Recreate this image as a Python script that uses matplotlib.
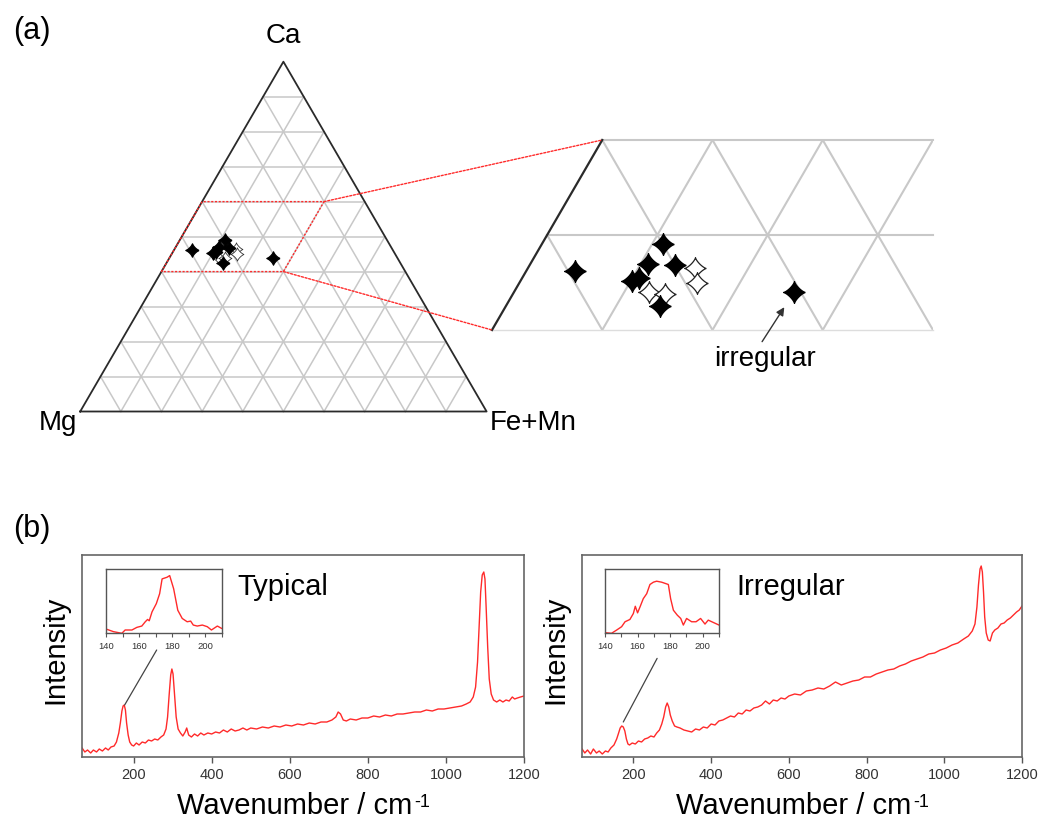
import numpy as np
import matplotlib
matplotlib.use("Agg")
import matplotlib.pyplot as plt
from matplotlib.path import Path
from matplotlib.patches import ConnectionPatch

plt.rcParams["font.family"] = ["Liberation Sans", "DejaVu Sans"]
plt.rcParams["mathtext.default"] = "regular"

# ---- (a) ternary data, mol% (Ca, Fe+Mn, Mg) ----
ca_filled = [46.2, 49.1, 46.9, 46.8, 45.2, 45.5, 42.5, 44.0]
fe_filled = [4.4, 11.0, 10.7, 13.2, 10.1, 10.6, 14.0, 25.4]
mg_filled = [49.4, 39.9, 42.4, 40.0, 44.7, 43.9, 43.5, 30.6]
ca_open = [46.5, 44.9, 44.0, 43.8]
fe_open = [15.2, 16.1, 12.2, 13.8]
mg_open = [38.3, 39.0, 43.8, 42.4]
irregular_idx = 7
# zoomed window (fractions)
zoom_ca = (0.4, 0.6)
zoom_fe = (0.0, 0.3)

# ---- (b) Raman spectra ----
wn_typ = [68, 75, 82, 90, 97, 105, 112, 120, 128, 135, 142, 150, 156, 162, 166, 170,
          173, 176, 179, 182, 186, 190, 195, 200, 207, 214, 222, 230, 238, 246, 254,
          262, 270, 277, 283, 287, 291, 295, 298, 301, 305, 309, 314, 320, 326, 332,
          336, 341, 348, 356, 364, 372, 380, 390, 400, 410, 420, 430, 440, 450, 460,
          470, 480, 490, 500, 515, 530, 545, 560, 575, 590, 605, 620, 635, 650, 665,
          680, 695, 708, 718, 724, 730, 737, 745, 755, 770, 785, 800, 815, 830, 845,
          860, 875, 890, 905, 920, 935, 950, 965, 980, 995, 1010, 1025, 1040, 1052,
          1062, 1070, 1076, 1081, 1085, 1089, 1093, 1097, 1100, 1103, 1107, 1111,
          1116, 1122, 1130, 1138, 1146, 1154, 1162, 1170, 1176, 1183, 1191, 1200]
int_typ = [9, 5, 7, 4, 7, 5, 8, 6, 9, 7, 10, 11, 15, 24, 34, 46,
           51, 52, 47, 34, 22, 15, 12, 11, 14, 12, 15, 14, 17, 16, 18,
           17, 20, 22, 28, 40, 62, 82, 88, 83, 62, 40, 28, 24, 21, 25,
           29, 22, 20, 23, 21, 24, 22, 24, 23, 25, 24, 27, 25, 28, 26,
           27, 29, 27, 29, 28, 30, 29, 31, 30, 32, 31, 33, 32, 34, 33,
           35, 35, 37, 40, 45, 43, 37, 36, 38, 37, 39, 39, 41, 40, 42,
           41, 43, 43, 44, 45, 45, 47, 46, 48, 48, 49, 50, 51, 53,
           55, 60, 70, 95, 130, 165, 182, 185, 178, 150, 110, 78,
           63, 57, 55, 57, 55, 57, 56, 60, 58, 59, 60, 61]

wn_irr = [68, 75, 82, 90, 97, 105, 112, 120, 128, 135, 142, 150, 157, 162, 166, 170,
          174, 178, 182, 186, 190, 197, 205, 213, 221, 229, 237, 245, 253, 260, 267,
          273, 278, 283, 287, 291, 295, 300, 306, 312, 320, 330, 340, 350, 360, 370,
          380, 390, 400, 410, 420, 430, 440, 450, 460, 470, 480, 490, 500, 510, 520,
          530, 540, 550, 560, 570, 580, 590, 600, 615, 630, 645, 660, 675, 690, 705,
          720, 735, 750, 765, 780, 795, 810, 825, 840, 855, 870, 885, 900, 915, 930,
          945, 960, 975, 990, 1005, 1020, 1035, 1050, 1062, 1072, 1079, 1084, 1088,
          1092, 1095, 1098, 1101, 1104, 1108, 1113, 1118, 1124, 1130, 1138, 1146,
          1154, 1162, 1170, 1178, 1186, 1193, 1200]
int_irr = [8, 4, 7, 3, 8, 4, 6, 3, 6, 5, 9, 12, 18, 24, 29, 31,
           30, 26, 18, 13, 12, 14, 13, 16, 15, 18, 19, 21, 20, 24, 27,
           33, 40, 50, 54, 50, 42, 36, 31, 30, 29, 27, 26, 25, 28, 27,
           30, 29, 33, 32, 36, 37, 39, 41, 40, 44, 43, 47, 46, 49, 50,
           52, 56, 53, 57, 56, 59, 58, 61, 63, 62, 66, 67, 69, 68, 71,
           75, 72, 74, 76, 77, 80, 80, 83, 85, 87, 88, 91, 93, 96, 98,
           100, 103, 104, 107, 109, 112, 114, 118, 121, 126, 133, 150, 172,
           188, 191, 185, 165, 140, 124, 117, 116, 124, 127, 129, 133,
           134, 137, 139, 142, 145, 147, 151]

# insets, 140-210 cm-1
wn_in_typ = [140, 144.5, 149.6, 151.6, 155.7, 158.7, 161.7, 163.8, 165.2, 166.2, 167.9,
             170.5, 172.5, 174, 177, 178.6, 181, 183.5, 186.2, 189.2, 191.3, 192.9,
             195.3, 198.4, 201.4, 203.9, 207.5, 210]
int_in_typ = [13, 5, 0, 10, 10, 18, 22, 35, 42, 38, 65,
              90, 120, 165, 170, 175, 135, 70, 45, 35, 37, 25,
              22, 25, 20, 10, 22, 15]
wn_in_irr = [140, 144, 147.2, 150.2, 152.3, 155.3, 157.4, 158.6, 160, 161.5, 163.5,
             165.6, 167.6, 169.7, 171.7, 174.8, 178.9, 180.3, 182, 184.4, 186.5, 188.1,
             190.1, 193.2, 195.9, 198.7, 201.4, 203.4, 206.9, 210]
int_in_irr = [2, 0, 10, 20, 35, 42, 60, 82, 62, 80, 105,
              120, 148, 155, 158, 155, 148, 105, 70, 55, 45, 25,
              45, 35, 35, 45, 28, 40, 32, 25]

W, H = 1038, 821


def px_rect(l, t, r, b):
    return [l / W, 1 - b / H, (r - l) / W, (b - t) / H]


S3 = np.sqrt(3) / 2


def cart(ca, fe):
    ca = np.asarray(ca, float)
    fe = np.asarray(fe, float)
    return fe + ca / 2, ca * S3


def tern(ca, fe, mg):
    ca, fe, mg = (np.asarray(v, float) for v in (ca, fe, mg))
    tot = ca + fe + mg
    return cart(ca / tot, fe / tot)


# concave four-pointed star marker
t = np.linspace(0, 2 * np.pi, 161)
k = 2.6
STAR = Path(np.column_stack([np.sign(np.cos(t)) * np.abs(np.cos(t)) ** k,
                             np.sign(np.sin(t)) * np.abs(np.sin(t)) ** k]))

fig = plt.figure(figsize=(W / 100, H / 100), dpi=100)

GRID = "#c8c8c8"
EDGE = "#2a2a2a"
RED = "#ff2a2a"
DOT = (0, (1.5, 1.2))

xf, yf = tern(ca_filled, fe_filled, mg_filled)
xo, yo = tern(ca_open, fe_open, mg_open)

# ---- main triangle ----
ax_t = fig.add_axes(px_rect(80.2, 61.7, 486.6, 411.5))
ax_t.set_xlim(0, 1)
ax_t.set_ylim(0, S3)
ax_t.axis("off")
n = 10
for i in range(1, n):
    f = i / n
    for a, b in [((f, 0), (f, 1 - f)), ((0, f), (1 - f, f)), ((0, 1 - f), (1 - f, 0))]:
        x, y = cart([a[0], b[0]], [a[1], b[1]])
        ax_t.plot(x, y, color=GRID, lw=1.1, clip_on=False, zorder=1)
ax_t.plot([0, 1, 0.5, 0], [0, 0, S3, 0], color=EDGE, lw=1.3, clip_on=False, zorder=2)
ax_t.plot(xo, yo, ls="none", marker=STAR, ms=9.5, mfc="white", mec="#333", mew=0.6, zorder=3)
ax_t.plot(xf, yf, ls="none", marker=STAR, ms=9.5, mfc="black", mec="black", zorder=4)
bx, by = cart([zoom_ca[0], zoom_ca[1], zoom_ca[1], zoom_ca[0], zoom_ca[0]],
              [zoom_fe[0], zoom_fe[0], zoom_fe[1], zoom_fe[1], zoom_fe[0]])
ax_t.plot(bx, by, color=RED, lw=1, ls=DOT, clip_on=False, zorder=5)
ax_t.annotate("Ca", xy=(0.5, S3), xytext=(0, 13.5), textcoords="offset points",
              ha="center", va="baseline", fontsize=20)
ax_t.annotate("Mg", xy=(0, 0), xytext=(-2.2, -13.3), textcoords="offset points",
              ha="right", va="baseline", fontsize=20)
ax_t.annotate("Fe+Mn", xy=(1, 0), xytext=(2.2, -13.3), textcoords="offset points",
              ha="left", va="baseline", fontsize=20)

# ---- zoomed window ----
ax_z = fig.add_axes(px_rect(492, 140, 933, 330))
x0, _ = cart(zoom_ca[0], 0)
ax_z.set_xlim(x0, x0 + 0.4)
ax_z.set_ylim(zoom_ca[0] * S3, zoom_ca[1] * S3)
ax_z.axis("off")
xmax = x0 + 0.4
for i in range(1, n):
    f = i / n
    for a, b in [((0, f), (1 - f, f)), ((0, 1 - f), (1 - f, 0))]:
        x, y = cart([a[0], b[0]], [a[1], b[1]])
        ax_z.plot(x, y, color=GRID, lw=1.5, zorder=1)
    if zoom_ca[0] - 1e-9 <= f <= zoom_ca[1] + 1e-9:
        xl, yl = cart(f, 0)
        light = abs(f - zoom_ca[0]) < 1e-9
        ax_z.plot([xl, xmax], [yl, yl], color="#dddddd" if light else GRID,
                  lw=1.0 if light else 1.5, clip_on=False, zorder=1)
ex, ey = cart(list(zoom_ca), [0, 0])
ax_z.plot(ex, ey, color=EDGE, lw=1.6, clip_on=False, zorder=2)
ax_z.plot(xo, yo, ls="none", marker=STAR, ms=15.5, mfc="white", mec="#222", mew=0.9, zorder=3)
ax_z.plot(xf, yf, ls="none", marker=STAR, ms=15.5, mfc="black", mec="black", zorder=4)
ax_z.annotate("irregular", xy=(xf[irregular_idx], yf[irregular_idx]), xytext=(-21.2, -53),
              textcoords="offset points", ha="center", va="baseline", fontsize=20,
              arrowprops=dict(arrowstyle="-|>", color="#333", lw=1, shrinkA=1, shrinkB=13,
                              mutation_scale=12, relpos=(0.45, 1.0)))

for ca_c in zoom_ca:
    con = ConnectionPatch(xyA=cart(ca_c, zoom_fe[1]), coordsA=ax_t.transData,
                          xyB=cart(ca_c, zoom_fe[0]), coordsB=ax_z.transData,
                          color=RED, lw=1, ls=DOT)
    fig.add_artist(con)

fig.text(13 / W, 1 - 31 / H, "(a)", fontsize=22, ha="left", va="center")
fig.text(13 / W, 1 - 529 / H, "(b)", fontsize=22, ha="left", va="center")

# ---- (b) spectra ----
panels = [
    (px_rect(81.7, 555, 524, 757), px_rect(106, 569, 221.5, 633.3), wn_typ, int_typ,
     wn_in_typ, int_in_typ, "Typical", (177, 52), (170.7, -0.26)),
    (px_rect(581.7, 555, 1022, 757), px_rect(605, 569, 719, 633.3), wn_irr, int_irr,
     wn_in_irr, int_in_irr, "Irregular", (174, 35), (172, -0.39)),
]
for rect, irect, wn, it, wn_i, it_i, name, pA, pB in panels:
    ax = fig.add_axes(rect)
    ax.plot(wn, it, color=RED, lw=1.0)
    ax.set_xlim(67, 1200)
    ax.set_ylim(0, 202)
    ax.set_yticks([])
    ax.set_xticks([200, 400, 600, 800, 1000, 1200])
    ax.tick_params(axis="x", direction="out", length=4, width=1, color="#555",
                   labelsize=10.5, labelcolor="#333", pad=4)
    for s in ax.spines.values():
        s.set_color("#666")
        s.set_linewidth(1.2)
    ax.text(-0.06, 0.53, "Intensity", rotation=90, transform=ax.transAxes,
            ha="center", va="center", fontsize=21)
    lab = ax.text(0.482, -0.245, "Wavenumber / cm", transform=ax.transAxes,
                  ha="center", va="center", fontsize=21)
    ax.annotate("-1", xy=(1.0, 1.0), xycoords=lab, xytext=(1, -1),
                textcoords="offset points", ha="left", va="top", fontsize=13)
    ax.text(0.351, 0.802, name, transform=ax.transAxes, ha="left", va="baseline",
            fontsize=21)

    ins = fig.add_axes(irect)
    ins.plot(wn_i, it_i, color=RED, lw=1.0)
    ins.set_xlim(140, 210)
    ins.set_ylim(0, 195)
    ins.set_yticks([])
    ins.set_xticks([140, 160, 180, 200])
    ins.set_xticks([150, 170, 190, 210], minor=True)
    ins.tick_params(axis="x", which="both", direction="out", length=3, width=0.8,
                    color="#555", labelsize=6.8, labelcolor="#333", pad=3)
    for s in ins.spines.values():
        s.set_color("#555")
        s.set_linewidth(1.0)
    con = ConnectionPatch(xyA=pA, coordsA=ax.transData, xyB=pB,
                          coordsB=ins.get_xaxis_transform(), color="#444", lw=0.9)
    fig.add_artist(con)

fig.savefig("out.png", dpi=100)
